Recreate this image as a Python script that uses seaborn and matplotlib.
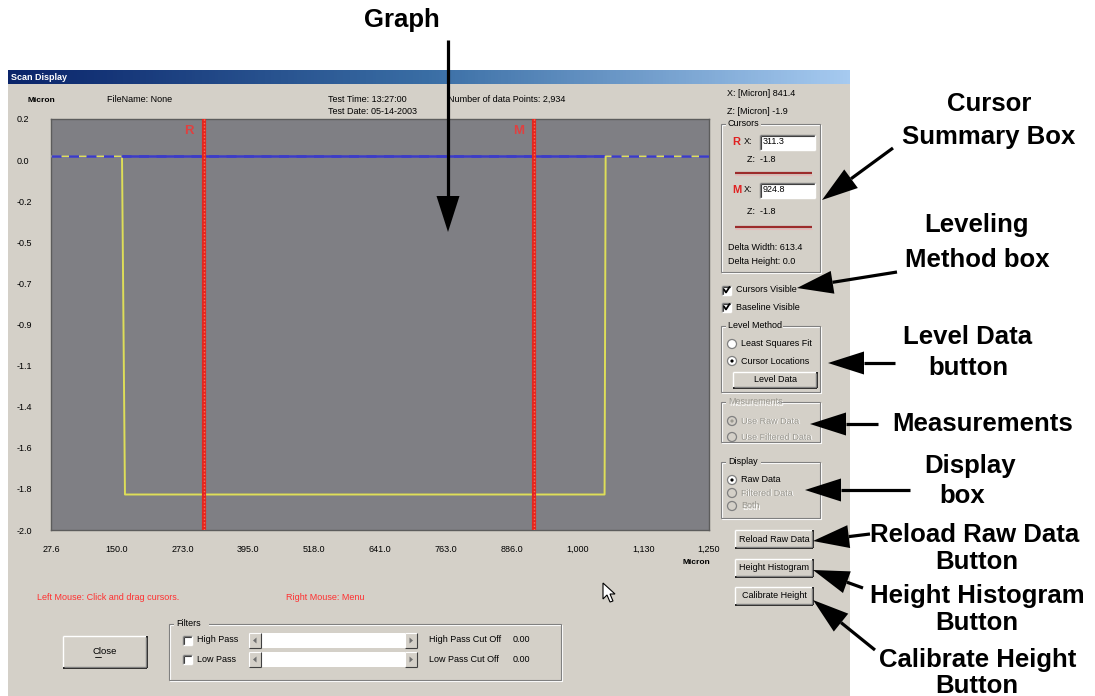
import numpy as np
import matplotlib
matplotlib.use("Agg")
import matplotlib.pyplot as plt
from matplotlib.patches import Rectangle, Polygon, Circle
from matplotlib.colors import LinearSegmentedColormap
import seaborn as sns

# ---------------- profile data (micron) ----------------
profile_x = [27.6, 159.5, 165.0, 1056.0, 1058.0, 1250.0]
profile_z = [0.0, 0.0, -1.81, -1.81, 0.0, 0.0]
baseline_x = [27.6, 1250.0]
baseline_z = [0.0, 0.0]

cursor_names = ["R", "M"]
cursor_x = [311.3, 924.8]
cursor_z = [-1.8, -1.8]

x_ticks = [27.6, 149.84, 272.08, 394.32, 516.56, 638.8,
           761.04, 883.28, 1005.52, 1127.76, 1250.0]
x_tick_labels = ["27.6", "150.0", "273.0", "395.0", "518.0", "641.0",
                 "763.0", "886.0", "1,000", "1,130", "1,250"]
z_ticks = [0.2, -0.02, -0.24, -0.46, -0.68, -0.90,
           -1.12, -1.34, -1.56, -1.78, -2.0]
z_tick_labels = ["0.2", "0.0", "-0.2", "-0.5", "-0.7", "-0.9",
                 "-1.1", "-1.4", "-1.6", "-1.8", "-2.0"]

header_texts = ["FileName: None", "Test Time: 13:27:00",
                "Test Date: 05-14-2003", "Number of data Points: 2,934"]
pointer_readout = ["X: [Micron] 841.4", "Z: [Micron] -1.9"]
delta_texts = ["Delta Width: 613.4", "Delta Height: 0.0"]

callouts = ["Graph", "Cursor\nSummary Box", "Leveling\nMethod box",
            "Level Data\nbutton", "Measurements", "Display\nbox",
            "Reload Raw Data\nButton", "Height Histogram\nButton",
            "Calibrate Height\nButton"]

# ---------------- style ----------------
sns.set_theme(style="white")
plt.rcParams["font.family"] = ["Liberation Sans", "DejaVu Sans"]

W, H = 1095, 696
BODY = "#d4d0c8"
DARK = "#808080"
UI = 6.5

fig = plt.figure(figsize=(W / 100, H / 100), dpi=100)
fig.patch.set_facecolor("white")

ui = fig.add_axes([0, 0, 1, 1], zorder=0)
ui.set_xlim(0, W)
ui.set_ylim(H, 0)
ui.axis("off")


def txt(x, y, s, size=UI, color="black", weight="normal", ha="left",
        va="center", disabled=False, ax=None, **kw):
    a = ax or ui
    if disabled:
        a.text(x + 1, y + 1, s, fontsize=size, color="white", weight=weight,
               ha=ha, va=va, zorder=5, **kw)
        color = "#9a9890"
    a.text(x, y, s, fontsize=size, color=color, weight=weight, ha=ha,
           va=va, zorder=6, **kw)


def hline(x0, x1, y, c, lw=1.0, z=4):
    ui.plot([x0, x1], [y, y], color=c, lw=lw, zorder=z, solid_capstyle="butt")


def vline(x, y0, y1, c, lw=1.0, z=4):
    ui.plot([x, x], [y0, y1], color=c, lw=lw, zorder=z, solid_capstyle="butt")


def group(x0, y0, x1, y1, title, disabled=False):
    for off, c in ((1, "white"), (0, DARK)):
        ui.add_patch(Rectangle((x0 + off, y0 + off), x1 - x0, y1 - y0,
                               fill=False, ec=c, lw=0.8, zorder=3))
    ui.add_patch(Rectangle((x0 + 5, y0 - 4), len(title) * 4.4 + 4, 8,
                           fc=BODY, ec="none", zorder=4))
    txt(x0 + 7, y0, title, disabled=disabled)


def button(x0, y0, x1, y1, label, size=UI):
    ui.add_patch(Rectangle((x0, y0), x1 - x0, y1 - y0, fc=BODY, ec="none",
                           zorder=3))
    hline(x0, x1, y0, "white")
    vline(x0, y0, y1, "white")
    hline(x0, x1, y1, "black", 1.2)
    vline(x1, y0, y1, "black", 1.2)
    hline(x0 + 1, x1 - 1, y1 - 1.5, DARK)
    vline(x1 - 1.5, y0 + 1, y1 - 1, DARK)
    txt((x0 + x1) / 2, (y0 + y1) / 2, label, size=size, ha="center")


def sunken(x0, y0, x1, y1, fc="white"):
    ui.add_patch(Rectangle((x0, y0), x1 - x0, y1 - y0, fc=fc, ec="none",
                           zorder=3))
    hline(x0, x1, y0, DARK)
    vline(x0, y0, y1, DARK)
    hline(x0 + 1, x1, y0 + 1, "#404040", 0.8)
    vline(x0 + 1, y0 + 1, y1, "#404040", 0.8)
    hline(x0, x1, y1, "white")
    vline(x1, y0, y1, "white")


def checkbox(x, y, label, checked):
    sunken(x, y - 4.5, x + 9, y + 4.5)
    if checked:
        ui.plot([x + 2, x + 4, x + 7.5], [y - 0.5, y + 2.5, y - 3],
                color="black", lw=1.3, zorder=6)
    txt(x + 14, y, label)


def radio(x, y, label, selected, disabled=False):
    fc = BODY if disabled else "white"
    ui.add_patch(Circle((x, y), 4.5, fc=fc, ec=DARK, lw=0.9, zorder=4))
    if selected:
        ui.add_patch(Circle((x, y), 1.6,
                            fc="#9a9890" if disabled else "black",
                            ec="none", zorder=5))
    txt(x + 9, y, label, disabled=disabled)


def scrollbar(x0, y0, x1, y1):
    ui.add_patch(Rectangle((x0, y0), x1 - x0, y1 - y0, fc="white",
                           ec="none", zorder=3))
    for bx, d in ((x0, -1), (x1 - 12, 1)):
        ui.add_patch(Rectangle((bx, y0), 12, y1 - y0, fc=BODY,
                               ec="none", zorder=4))
        hline(bx, bx + 12, y0, "white", 0.8, 5)
        vline(bx, y0, y1, "white", 0.8, 5)
        hline(bx, bx + 12, y1, "#404040", 0.8, 5)
        vline(bx + 12, y0, y1, "#404040", 0.8, 5)
        cx, cy = bx + 6, (y0 + y1) / 2
        ui.add_patch(Polygon([(cx + 2 * d, cy), (cx - 1.5 * d, cy - 3),
                              (cx - 1.5 * d, cy + 3)], closed=True,
                             fc="#707070", ec="none", zorder=6))


# ---------------- application window ----------------
ui.add_patch(Rectangle((8, 70), 842, H - 70, fc=BODY, ec="none", zorder=1))
bar = LinearSegmentedColormap.from_list("bar", ["#0a246a", "#3a6ea5",
                                               "#a6caf0"])
ui.imshow(np.linspace(0, 1, 256)[None, :], extent=[8, 850, 84, 70],
          cmap=bar, aspect="auto", zorder=2)
ui.set_xlim(0, W)
ui.set_ylim(H, 0)
txt(11, 77, "Scan Display", color="white", weight="bold")

# header line above the graph
txt(28, 100, "Micron", weight="bold", size=6)
txt(107, 100, header_texts[0])
txt(328, 99, header_texts[1])
txt(328, 112, header_texts[2])
txt(448, 99, header_texts[3])
txt(727, 94, pointer_readout[0])
txt(727, 112, pointer_readout[1])

# cursor summary
group(721, 124, 820, 272, "Cursors")
for i, (name, yx, yz, yl) in enumerate(zip(cursor_names, (142, 190),
                                           (160, 211), (173, 227))):
    txt(732, yx, name, color="#e02020", weight="bold", size=8)
    txt(744, yx, "X:")
    sunken(760, yx - 7.5, 815, yx + 7.5)
    txt(763, yx, f"{cursor_x[i]:.1f}")
    txt(747, yz, f"Z:  {cursor_z[i]:.1f}")
    hline(735, 812, yl, "#9c2b2b", 1.6)
    hline(735, 812, yl + 1.5, "#e8b8b8", 0.8)
txt(728, 247, delta_texts[0])
txt(728, 262, delta_texts[1])

checkbox(722, 290, "Cursors Visible", True)
checkbox(722, 307, "Baseline Visible", True)

group(721, 326, 820, 392, "Level Method")
radio(732, 344, "Least Squares Fit", False)
radio(732, 361, "Cursor Locations", True)
button(733, 372, 817, 388, "Level Data")

group(721, 402, 820, 442, "Mesurements", disabled=True)
radio(732, 421, "Use Raw Data", True, disabled=True)
radio(732, 437, "Use Filtered Data", False, disabled=True)

group(721, 462, 820, 518, "Display")
radio(732, 480, "Raw Data", True)
radio(732, 493, "Filtered Data", False, disabled=True)
radio(732, 506, "Both", False, disabled=True)

button(735, 530, 813, 548, "Reload Raw Data")
button(735, 559, 813, 577, "Height Histogram")
button(735, 587, 813, 605, "Calibrate Height")

# bottom controls
txt(37, 598, "Left Mouse: Click and drag cursors.", color="#ff3030")
txt(286, 598, "Right Mouse: Menu", color="#ff3030")
button(63, 636, 147, 668, "Close", size=6.8)
ui.plot([95, 101], [657, 657], color="black", lw=0.6, zorder=7)

group(169, 624, 561, 680, "Filters")
checkbox(183, 640, "High Pass", False)
checkbox(183, 659, "Low Pass", False)
scrollbar(249, 633, 417, 648)
scrollbar(249, 652, 417, 667)
txt(429, 640, "High Pass Cut Off")
txt(429, 659, "Low Pass Cut Off")
txt(513, 640, "0.00")
txt(513, 659, "0.00")

# mouse pointer
ui.add_patch(Polygon([(603, 583), (603, 599), (607, 595), (610, 602),
                      (613, 601), (610, 594), (615, 594)], closed=True,
                     fc="white", ec="black", lw=0.8, zorder=7))

# ---------------- profile graph ----------------
L, R, T, B = 51, 709, 119, 530
ax = fig.add_axes([L / W, 1 - B / H, (R - L) / W, (B - T) / H], zorder=1)
ax.set_facecolor("#7f7f84")

sns.lineplot(x=baseline_x, y=baseline_z, ax=ax, color="#3c3cc8", lw=1.8,
             zorder=2)
sns.lineplot(x=profile_x, y=profile_z, ax=ax, sort=False, estimator=None,
             color="#dede58", lw=1.4, zorder=3)
ax.plot(baseline_x, baseline_z, color="#3c3cc8", lw=1.8,
        linestyle=(0, (4, 3)), zorder=4)

for name, cx in zip(cursor_names, cursor_x):
    ax.axvline(cx, color="#e4261e", lw=3.0, zorder=5)
    ax.axvline(cx, color="#ff6a5a", lw=1.0, linestyle=(0, (1, 1.5)),
               zorder=6)
    ax.annotate(name, xy=(cx, 0.2), xytext=(-7, -9),
                textcoords="offset points", ha="right", va="center",
                color="#e04040", weight="bold", fontsize=9.5)

ax.set_xlim(27.6, 1250)
ax.set_ylim(-2.0, 0.2)
ax.set_xticks(x_ticks, x_tick_labels)
ax.set_yticks(z_ticks, z_tick_labels)
ax.tick_params(axis="both", direction="out", length=6, width=1.6,
               colors="#5a5ad6", labelcolor="black", labelsize=UI)
ax.tick_params(axis="x", pad=5)
# y labels are left-aligned in a column at the window edge
ax.tick_params(axis="y", pad=18.5)
for lab in ax.get_yticklabels():
    lab.set_horizontalalignment("left")
ax.set_xlabel("")
ax.set_ylabel("")
for s in ax.spines.values():
    s.set_color("#5c5c5c")
    s.set_linewidth(1.0)
ax.grid(False)

txt(696, 563, "Micron", weight="bold", size=6, ha="center")

# ---------------- callouts ----------------
ov = fig.add_axes([0, 0, 1, 1], zorder=3)
ov.set_xlim(0, W)
ov.set_ylim(H, 0)
ov.axis("off")
ov.patch.set_alpha(0)


def arrow(x0, y0, x1, y1, hl=36, hw=23, lw=2.3):
    v = np.array([x1 - x0, y1 - y0], float)
    n = np.hypot(*v)
    u = v / n
    p = np.array([-u[1], u[0]])
    base = np.array([x1, y1]) - u * hl
    ov.plot([x0, base[0]], [y0, base[1]], color="black", lw=lw,
            solid_capstyle="butt")
    ov.add_patch(Polygon([(x1, y1), base + p * hw / 2, base - p * hw / 2],
                         closed=True, fc="black", ec="none"))


CS = 18.5
# centre of each text line of every callout
line_pos = [[(402, 20)],
            [(989, 104), (989, 137)],
            [(977, 225), (977, 260)],
            [(968, 337), (968, 368)],
            [(983, 424)],
            [(970, 466), (962, 496)],
            [(975, 535), (977, 562)],
            [(977, 596), (977, 623)],
            [(978, 660), (977, 686)]]
for label, spots in zip(callouts, line_pos):
    for line, (x, y) in zip(label.split("\n"), spots):
        ov.text(x, y, line, fontsize=CS, weight="bold", ha="center",
                va="center", color="black")

arrow(448, 40, 448, 232)
arrow(893, 148, 822, 200)
arrow(897, 272, 797, 288)
arrow(895, 363, 828, 363)
arrow(878, 424, 810, 424)
arrow(910, 490, 805, 490)
arrow(870, 534, 813, 541)
arrow(863, 588, 813, 570)
arrow(875, 650, 813, 600)

fig.savefig("out.png", dpi=100, facecolor="white")
